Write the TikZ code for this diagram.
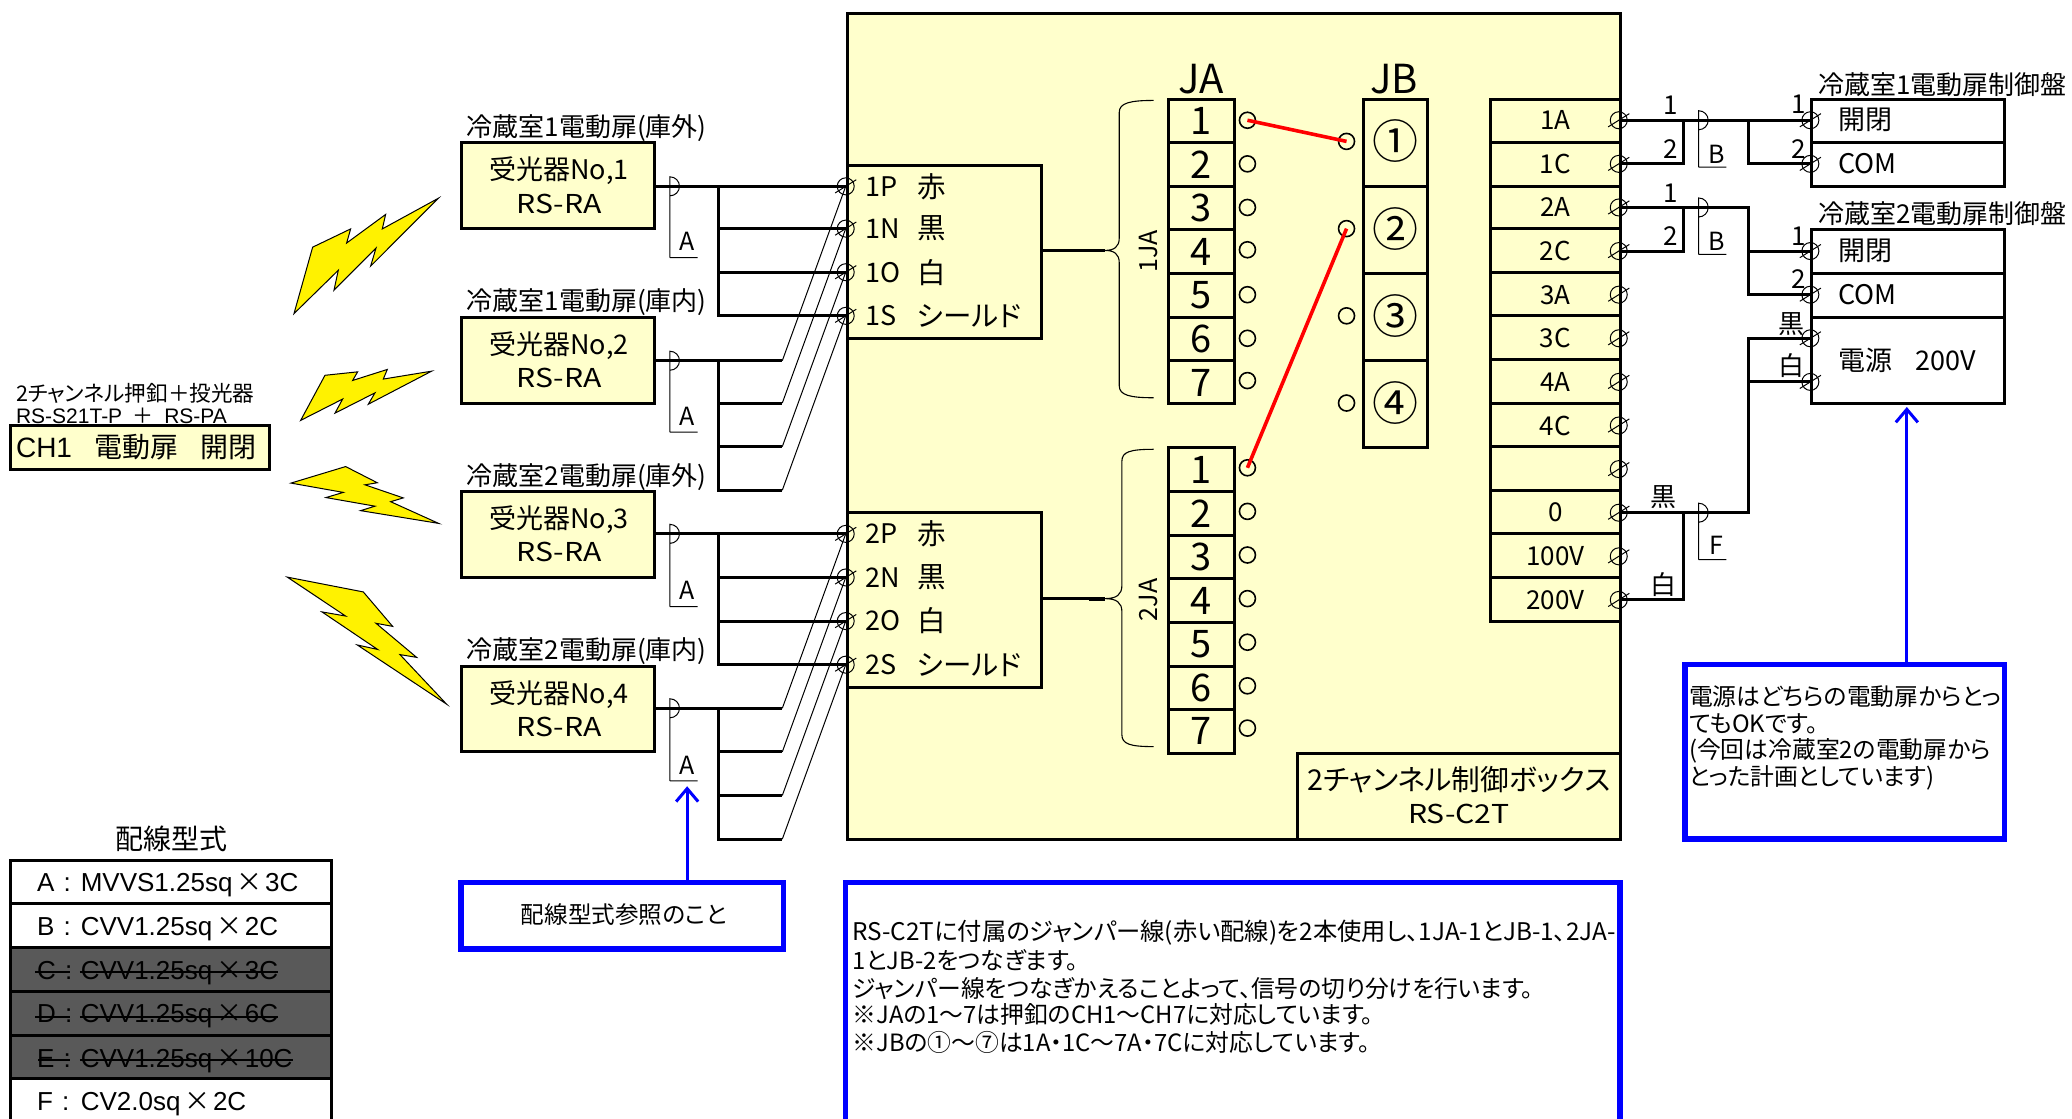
\documentclass[tikz,border=0pt]{standalone}
\usepackage{fontspec}
\setmainfont[RawFeature=+palt]{Noto Sans CJK JP}
\newfontfamily\arialf{Liberation Sans}
\newfontfamily\widef[FakeStretch=1.16]{Noto Sans CJK JP}
\usetikzlibrary{fit,calc,arrows.meta}
\definecolor{paper}{HTML}{FFFFCC}
\definecolor{blueb}{HTML}{0000FF}
\definecolor{darkrow}{HTML}{595959}
\newcommand\fs[1]{\fontsize{#1pt}{#1pt}\selectfont}
\tikzset{
 boxn/.style={draw=black,line width=3pt,inner sep=0pt,font=\fs{26}},
 wire/.style={draw=black,line width=3pt,line join=miter},
 thinw/.style={draw=black,line width=1pt},
 txt/.style={inner sep=0pt,font=\fs{26}},
 term/.style={circle,draw=black,line width=1pt,minimum size=17pt,inner sep=0pt},
 hole/.style={circle,draw=black,line width=1.6pt,minimum size=16pt,inner sep=0pt},
 bolt/.style={draw=black,line width=1pt,fill=yellow,line join=miter},
 bluebox/.style={draw=blueb,line width=5.5pt,fill=white,inner sep=0pt},
 bluearrow/.style={draw=blueb,line width=3pt,-{Straight Barb[length=13pt,width=22pt,line width=3pt]}},
 red jumper/.style={draw=red,line width=3.6pt},
 note/.style={inner sep=0pt,anchor=west,font=\fs{23.8}},
}
% terminal: name, x, y
\newcommand\termn[3]{\node[term] (#1) at (#2,#3) {};
 \draw[thinw] ($(#1)+(-8,5)$) -- ($(#1)+(8,-5)$);}
% cable tag: name, x, y, bottom y, label x, label y, text
\newcommand\tagn[6]{\draw[thinw] (#2,#4) -- (#2+21,#4) (#2,#4) -- (#2,#3-7.2) arc[start angle=90,end angle=-90,radius=9.5pt];
 \node[txt] (#1) at (#5,#6) {\fs{25}#1};}
\begin{document}
\begin{tikzpicture}[x=1.3214pt,y=-1.3214pt]
\useasboundingbox (0,0) rectangle (1568,846.8);
% ---- main box
\node[boxn,fill=paper,fit={(641,10)(1226,635)}] (main) {};
\node[boxn,fill=paper,fit={(641,125)(788,256)}] (sub1) {};
\node[boxn,fill=paper,fit={(641,388)(788,520)}] (sub2) {};
\node[boxn,fit={(982,570)(1226,635)}] (ctrl) {};
\node[txt,font=\fs{28.7}] (ctrlA) at (1104,590) {2チャンネル制御ボックス};
\node[txt,font=\fs{26}] (ctrlB) at (1104,616) {\widef RS-C2T};
% ---- sub box labels and terminals
\foreach \n/\y/\a/\b in {1P/141/1P/赤,1N/173/1N/黒,1O/206/1O/白,1S/239/1S/シールド,2P/404/2P/赤,2N/437/2N/黒,2O/470/2O/白,2S/503/2S/シールド}{
 \termn{t\n}{640}{\y}
 \node[txt,anchor=west,font=\fs{27}] (la\n) at (655,\y) {\a};
 \node[txt,anchor=west,font=\fs{28.5}] (lb\n) at (694,\y) {\b};
}
% ---- JA
\node[txt,font=\fs{40}] (JA) at (909,60) {JA};
\node[txt,font=\fs{40}] (JB) at (1055,60) {JB};
\foreach \k/\a/\b/\h/\c in {1/75/108/91/1,2/108/141/124/2,3/141/174/157/3,4/174/207/189/4,5/207/240/223/5,6/240/273/256/6,7/273/305/288/7}{
 \node[boxn,fit={(884,\a)(934,\b)}] (ja\k) {};
 \node[txt,font=\fs{38}] (jal\k) at (909,\a+16.5) {\c};
 \node[hole] (ha\k) at (944,\h) {};
}
\foreach \k/\a/\b/\h/\c in {1/339/372/354/1,2/372/405/387/2,3/405/438/420/3,4/438/471/453/4,5/471/504/486/5,6/504/537/519/6,7/537/570/551/7}{
 \node[boxn,fit={(884,\a)(934,\b)}] (jc\k) {};
 \node[txt,font=\fs{38}] (jcl\k) at (909,\a+16.5) {\c};
 \node[hole] (hc\k) at (944,\h) {};
}
\foreach \k/\a/\b/\h/\c in {1/75/141/107/①,2/141/207/173/②,3/207/273/239/③,4/273/339/305/④}{
 \node[boxn,fit={(1032,\a)(1080,\b)}] (jb\k) {};
 \node[txt,font=\fs{46}] (jbl\k) at (1056,\h) {\c};
 \node[hole] (hb\k) at (1019,\h) {};
}
\draw[red jumper] (ha1.center) -- (hb1.center);
\draw[red jumper] (hc1.center) -- (hb2.center);
% braces
\coordinate (bt1) at (836,189.5);
\coordinate (bt2) at (836,453);
\coordinate (bs1) at (824,189.5);
\coordinate (bs2) at (824,453);
\draw[thinw,line width=1.1pt] (873,76) .. controls (855,76) and (847,78) .. (847,85) -- (847,180) .. controls (847,187) and (843,189.5) .. (bt1) .. controls (843,189.5) and (847,192) .. (847,199) -- (847,292) .. controls (847,299) and (855,301) .. (873,301);
\draw[thinw,line width=1.1pt] (873,340) .. controls (855,340) and (849,342) .. (849,349) -- (849,443) .. controls (849,450) and (845,453) .. (bt2) .. controls (845,453) and (849,456) .. (849,463) -- (849,556) .. controls (849,563) and (855,565) .. (873,565);
\draw[wire,line width=2.4pt] (sub1.east |- bt1) -- (bs1);
\draw[wire,line width=2.4pt] (sub2.east |- bt2) -- (bs2);
\draw[wire,line width=3.8pt] (bs1) -- (bt1);
\draw[wire,line width=3.8pt] (bs2) -- (bt2);
\node[txt,rotate=90,font=\fs{25}] (l1JA) at (869,190) {1JA};
\node[txt,rotate=90,font=\fs{25}] (l2JA) at (869,454) {2JA};
% ---- right terminal block
\foreach \n/\a/\b/\h/\t in {1A/75/108/91/1A,1C/108/141/124/1C,2A/141/173/157/2A,2C/173/206/190/2C,3A/206/239/223/3A,3C/239/272/256/3C,4A/272/305/289/4A,4C/305/338/322/4C,xx/338/371/355/{},0/371/404/388/0,100/404/437/421/100V,200/437/470/454/200V}{
 \node[boxn,fit={(1128,\a)(1226,\b)}] (row\n) {};
 \node[txt] (rowl\n) at (1177,\h) {\t};
 \termn{tr\n}{1225}{\h}
}
% ---- control panels
\node[boxn,fit={(1371,75)(1517,108)}] (c1a) {};
\node[boxn,fit={(1371,108)(1517,141)}] (c1b) {};
\node[boxn,fit={(1371,174)(1517,207)}] (c2a) {};
\node[boxn,fit={(1371,207)(1517,240)}] (c2b) {};
\node[boxn,fit={(1371,240)(1517,305)}] (c2c) {};
\node[txt,anchor=west] (c1ttl) at (1376,64) {冷蔵室1電動扉制御盤};
\node[txt,anchor=west] (c2ttl) at (1376,162) {冷蔵室2電動扉制御盤};
\foreach \n/\y/\t in {c1p/91/開閉,c1q/124/COM,c2p/190/開閉,c2q/223/COM}{
 \node[txt,anchor=west,font=\fs{27}] (l\n) at (1391,\y) {\t};
}
\node[txt,anchor=west,font=\fs{27}] (lpow) at (1391,273) {電源\hspace{0.85em}200V};
\foreach \n/\y in {c1p/91,c1q/124,c2p/190,c2q/223,pa/256,pb/289}{\termn{tc\n}{1370}{\y}}
% right wires
\coordinate (r1a) at (1274,91); \coordinate (r1b) at (1323,91);
\coordinate (r2a) at (1274,157); \coordinate (r2b) at (1323,157);
\coordinate (r3a) at (1274,388); \coordinate (r3b) at (1323,388);
\draw[wire] (tr1A.center) -- (tcc1p.center);
\draw[wire] (r1a) |- (tr1C.center);
\draw[wire] (r1b) |- (tcc1q.center);
\draw[wire] (tr2A.center) -- (r2b) |- (tcc2q.center);
\draw[wire] (r2a) |- (tr2C.center);
\draw[wire] (r2b) |- (tcc2p.center);
\draw[wire] (tr0.center) -- (r3b) |- (tcpa.center);
\draw[wire] (r3b) |- (tcpb.center);
\draw[wire] (r3a) |- (tr200.center);
\tagn{B}{1285.5}{91}{126.5}{1299}{117}
\tagn{F}{1285.5}{388}{423.5}{1299}{413}
\begin{scope}
\draw[thinw] (1285.5,192.5) -- (1306.5,192.5) (1285.5,192.5) -- (1285.5,149.8) arc[start angle=90,end angle=-90,radius=9.5pt];
\node[txt,font=\fs{25}] (B2) at (1299,183) {B};
\end{scope}
\foreach \n/\x/\y/\t in {n1/1264/80/1,n2/1264/113/2,n3/1361/79/1,n4/1361/113/2,n5/1264/146/1,n6/1264/179/2,n7/1361/179/1,n8/1361/211/2}{
 \node[txt] (\n) at (\x,\y) {\t};
}
\node[txt] (kuro1) at (1356,245) {黒};
\node[txt] (shiro1) at (1356,277) {白};
\node[txt] (kuro2) at (1259,376) {黒};
\node[txt] (shiro2) at (1259,442) {白};
% ---- receivers
\foreach \i/\a/\b/\t/\n in {1/108/173/冷蔵室1電動扉(庫外)/1,2/240/305/冷蔵室1電動扉(庫内)/2,3/372/437/冷蔵室2電動扉(庫外)/3,4/504/569/冷蔵室2電動扉(庫内)/4}{
 \node[boxn,fill=paper,fit={(349,\a)(495,\b)}] (rx\i) {};
 \node[txt,font=\fs{27}] (rxa\i) at (423,\a+21.5) {受光器No,\n};
 \node[txt,font=\fs{26}] (rxb\i) at (423,\a+46) {\widef RS-RA};
 \node[txt,anchor=west] (rxt\i) at (353,\a-11) {\t};
}
\coordinate (j1) at (544,141); \coordinate (j2) at (544,273); \coordinate (j3) at (544,404); \coordinate (j4) at (544,536);
\draw[wire] (rx1.east |- j1) -- (t1P.center);
\draw[wire] (j1) |- (t1N.center); \draw[wire] (j1) |- (t1O.center); \draw[wire] (j1) |- (t1S.center);
\draw[wire] (rx3.east |- j3) -- (t2P.center);
\draw[wire] (j3) |- (t2N.center); \draw[wire] (j3) |- (t2O.center); \draw[wire] (j3) |- (t2S.center);
\coordinate (p2a) at (592,273); \coordinate (p2b) at (592,305); \coordinate (p2c) at (592,338); \coordinate (p2d) at (592,371);
\coordinate (p4a) at (592,536); \coordinate (p4b) at (592,569); \coordinate (p4c) at (592,602); \coordinate (p4d) at (592,635);
\draw[wire] (rx2.east |- j2) -- (p2a);
\draw[wire] (rx4.east |- j4) -- (p4a);
\draw[wire] (j2) |- (p2b); \draw[wire] (j2) |- (p2c); \draw[wire] (j2) |- (p2d);
\draw[wire] (j4) |- (p4b); \draw[wire] (j4) |- (p4c); \draw[wire] (j4) |- (p4d);
\draw[thinw] (p2a) -- (t1P.center) (p2b) -- (t1N.center) (p2c) -- (t1O.center) (p2d) -- (t1S.center);
\draw[thinw] (p4a) -- (t2P.center) (p4b) -- (t2N.center) (p4c) -- (t2O.center) (p4d) -- (t2S.center);
\foreach \y/\b/\l/\m in {141/195/183/a1,273/327/315/a2,404/459/447/a3,536/591/579/a4}{
 \draw[thinw] (507,\b) -- (528,\b) (507,\b) -- (507,\y-7.2) arc[start angle=90,end angle=-90,radius=9.5pt];
 \node[txt,font=\fs{25}] (\m) at (520,\l) {A};
}
% ---- transmitter
\node[txt,anchor=west,font=\fs{21.6}] (tx1) at (12,298) {2チャンネル押釦＋投光器};
\node[txt,anchor=west,font=\fs{21}] (tx2) at (12,314.5) {{\arialf RS-S21T-P}\hspace{0.5em}＋\hspace{0.5em}{\arialf RS-PA}};
\node[boxn,fill=paper,fit={(8,322)(204,355)}] (txb) {};
\node[txt,anchor=west,font=\fs{28}] (tx3) at (12,338.5) {{\arialf CH1}\hspace{0.8em}電動扉\hspace{0.8em}開閉};
% ---- bolts
\begin{scope}[x=0.3333pt,y=-0.3444pt,yshift=-180pt]
\draw[bolt] (938,195)--(1052,142)--(1040,183)--(1157,100)--(1147,142)--(1315,53)--(1112,250)--(1128,198)--(1002,320)--(1015,262)--(882,388)--cycle;
\draw[bolt] (975,567)--(1073,557)--(1058,582)--(1162,550)--(1150,578)--(1295,555)--(1105,651)--(1125,618)--(1005,677)--(1028,636)--(902,698)--cycle;
\draw[bolt] (1037,832)--(1132,879)--(1095,885)--(1210,923)--(1172,934)--(1316,997)--(1082,960)--(1125,947)--(978,922)--(1030,907)--(873,880)--cycle;
\draw[bolt] (862,1153)--(1090,1196)--(1178,1296)--(1128,1287)--(1250,1386)--(1200,1378)--(1340,1522)--(1072,1350)--(1133,1363)--(966,1254)--(1037,1266)--cycle;
\end{scope}
% ---- table
\node[txt,font=\fs{28}] (tbt) at (130,635) {配線型式};
\foreach \k/\a/\b/\f/\p/\q/\r in {A/651/684/white/A/MVVS1.25sq/3C,B/684/717/white/B/CVV1.25sq/2C,C/717/750/darkrow/C/CVV1.25sq/3C,D/750/783.5/darkrow/D/CVV1.25sq/6C,E/783.5/816/darkrow/E/CVV1.25sq/10C,F/816/850/white/F/CV2.0sq/2C}{
 \node[boxn,fill=\f,fit={(8,\a)(251,\b)}] (tb\k) {};
 \node[txt,anchor=base west] (tp\k) at (28,\a+24) {\arialf \p\hspace{0.35em}:};
 \node[txt,anchor=base west] (tq\k) at (61,\a+24) {{\arialf \q}\hspace{0.15em}×\hspace{0.1em}{\arialf \r}};
}
\draw[line width=1.8pt] (26.5,735.5)--(53,735.5) (60.5,735.5)--(210.7,735.5);
\draw[line width=1.8pt] (26.5,769.6)--(53,769.6) (60.5,769.6)--(210.7,769.6);
\draw[line width=1.8pt] (29,802)--(53,802) (60.5,802)--(222,802);
% ---- blue boxes
\node[bluebox,fit={(349,668)(593,718)}] (bb1) {};
\node[txt,font=\fs{23.6}] (bb1t) at (472,692) {配線型式参照のこと};
\node[bluebox,fit={(1275,503)(1517,635)}] (bb2) {};
\node[bluebox,fit={(640,668)(1226,870)}] (bb3) {};
\coordinate (tipA) at (520,595);
\coordinate (tipB) at (1443,308);
\draw[bluearrow] (bb1.north -| tipA) -- (tipA);
\draw[bluearrow] (bb2.north -| tipB) -- (tipB);
\foreach \n/\y/\t in {a/527/電源はどちらの電動扉からとっ,b/548/てもOKです。,c/568/(今回は冷蔵室2の電動扉から,d/589/とった計画としています)}{
 \node[note] (nb\n) at (1278,\y) {\t};
}
\node[note,font=\fs{24.3}] (nca) at (645,706) {RS-C2Tに付属のジャンパー線(赤い配線)を2本使用し、1JA-1とJB-1、2JA-};
\foreach \n/\y/\t in {b/727/1とJB-2をつなぎます。,c/748/ジャンパー線をつなぎかえることよって、信号の切り分けを行います。,d/768/※JAの1～7は押釦のCH1～CH7に対応しています。,e/789/※JBの①～⑦は1A・1C～7A・7Cに対応しています。}{
 \node[note] (nc\n) at (645,\y) {\t};
}
\end{tikzpicture}
\end{document}
